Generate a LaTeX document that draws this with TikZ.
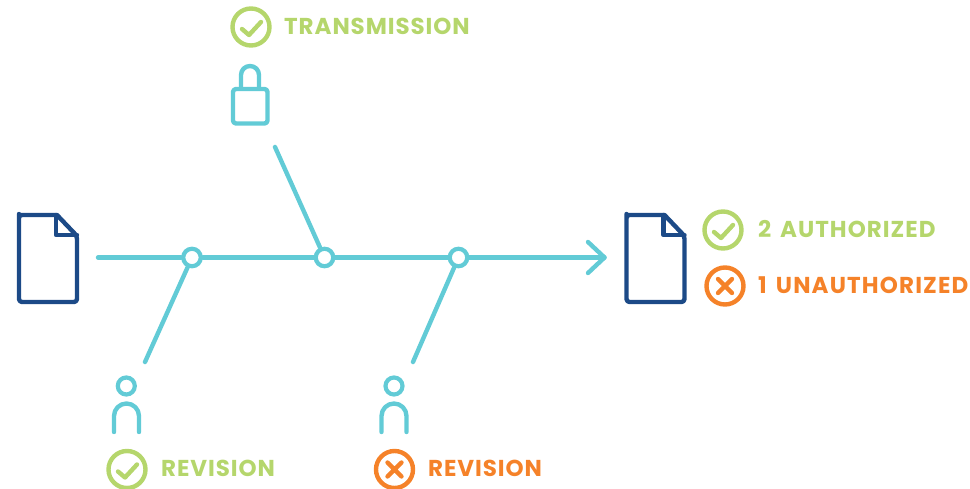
\documentclass[tikz,border=0pt]{standalone}
\usepackage{fontspec}
\setmainfont{Poppins}[LetterSpace=4,WordSpace=1.5]
\definecolor{teal}{HTML}{62CBD6}
\definecolor{navy}{HTML}{1C4A87}
\definecolor{okgreen}{HTML}{B5D66C}
\definecolor{badorange}{HTML}{F58229}
\newcommand{\labelfont}{\fontsize{23}{25}\selectfont\bfseries}
\tikzset{
  x=1pt,y=-1pt,
  flow/.style={draw=teal,line width=4.4pt,line cap=round,line join=round},
  docline/.style={draw=navy,line width=4.4pt,line cap=round,line join=round},
  joint/.style={circle,draw=teal,fill=white,line width=4.2pt,minimum size=17.5pt,inner sep=0pt},
  status/.style={circle,line width=4.4pt,minimum size=37pt,inner sep=0pt,fill=none},
  statusok/.style={status,draw=okgreen},
  statusbad/.style={status,draw=badorange},
  oklabel/.style={anchor=base west,inner sep=0pt,text=okgreen,font=\labelfont},
  badlabel/.style={anchor=base west,inner sep=0pt,text=badorange,font=\labelfont},
  glyphline/.style={line width=4.4pt,line cap=round,line join=round},
  personhead/.style={circle,draw=teal,line width=4.2pt,minimum size=17pt,inner sep=0pt},
  tickpic/.pic={\draw[glyphline,draw=okgreen] (-9,2) -- (-2,8) -- (10,-5);},
  crosspic/.pic={\draw[glyphline,draw=badorange] (-7,-7) -- (7,7) (-7,7) -- (7,-7);},
  document/.pic={
    \draw[docline] (0,2) [rounded corners=3pt] -- (0,87) -- (58,87) -- (58,21) [sharp corners] -- (38,0) [rounded corners=3pt] -- (0,0) -- cycle;
    \draw[docline] (37,0) -- (37,20) -- (58,20);
  },
  personbody/.pic={\draw[flow] (-12.5,0) -- (-12.5,-16) arc[start angle=180,end angle=360,radius=12.5] -- (12.5,0);},
}
\begin{document}
\begin{tikzpicture}
\useasboundingbox (0,0) rectangle (970,489);
% documents
\pic at (19,215) {document};
\pic at (626.5,215) {document};
% flow
\coordinate (start) at (98,257.5);
\coordinate (tip) at (604.5,257.5);
\coordinate (tipa) at (588,242);
\coordinate (tipb) at (588,273);
\node[joint] (j1) at (192,257.5) {};
\node[joint] (j2) at (324.5,257.5) {};
\node[joint] (j3) at (458.5,257.5) {};
\coordinate (s1) at (145,362);
\coordinate (s2) at (275,147);
\coordinate (s3) at (413,362);
\draw[flow] (start) -- (j1);
\draw[flow] (j1) -- (j2);
\draw[flow] (j2) -- (j3);
\draw[flow] (j3) -- (tip);
\draw[flow] (tipa) -- (tip) -- (tipb);
\draw[flow] (j1) -- (s1);
\draw[flow] (j2) -- (s2);
\draw[flow] (j3) -- (s3);
% lock
\draw[flow,rounded corners=3pt] (233,89) rectangle (267.5,123.5);
\draw[flow] (241,88) -- (241,75) arc[start angle=180,end angle=360,radius=9] -- (259,88);
% persons
\node[personhead] (h1) at (126.3,386) {};
\pic at (126.5,432) {personbody};
\node[personhead] (h2) at (394,386) {};
\pic at (394,432) {personbody};
% status
\node[statusok] (c1) at (251,27) {};
\pic at (c1) {tickpic};
\node[oklabel] (t1) at (284,34.7) {TRANSMISSION};
\node[statusok] (c2) at (723,230) {};
\pic at (c2) {tickpic};
\node[oklabel] (t2) at (758,237.7) {\addfontfeature{LetterSpace=4.4}2 AUTHORIZED};
\node[statusbad] (c3) at (725,286) {};
\pic at (c3) {crosspic};
\node[badlabel] (t3) at (758,293.7) {\addfontfeature{LetterSpace=5}1 UNAUTHORIZED};
\node[statusok] (c4) at (127,469.5) {};
\pic at (c4) {tickpic};
\node[oklabel] (t4) at (161,476.5) {REVISION};
\node[statusbad] (c5) at (394.5,469.5) {};
\pic at (c5) {crosspic};
\node[badlabel] (t5) at (428,476.5) {REVISION};
\end{tikzpicture}
\end{document}
